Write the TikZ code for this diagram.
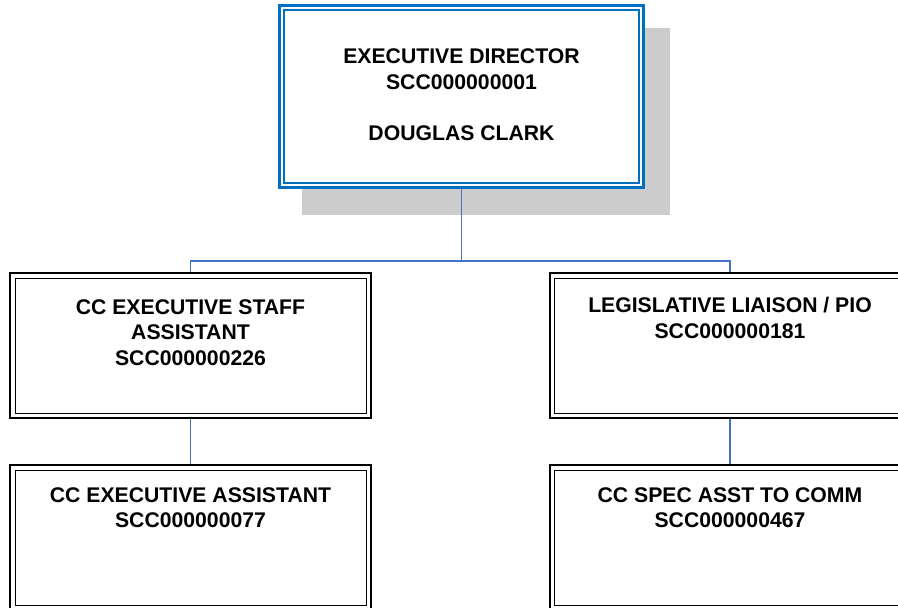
\documentclass[tikz,border=0pt]{standalone}
\usepackage{fontspec}
\setmainfont{Liberation Sans}
\definecolor{topblue}{RGB}{0,112,192}
\definecolor{linkblue}{RGB}{68,114,196}
\definecolor{shadowgray}{RGB}{204,204,204}
\begin{document}
\begin{tikzpicture}[x=1pt,y=-1pt,
  blackbox/.style={draw=black, line width=2pt, fill=white, minimum width=361pt, minimum height=145pt, inner sep=0pt,
    path picture={\draw[black,line width=1pt] ([shift={(5pt,-5pt)}]path picture bounding box.north west) rectangle ([shift={(-5pt,5pt)}]path picture bounding box.south east);}},
  topbox/.style={draw=topblue, line width=3pt, fill=white, minimum width=364pt, minimum height=182pt, inner sep=0pt,
    path picture={\draw[topblue,line width=1.6pt] ([shift={(4.3pt,-4.3pt)}]path picture bounding box.north west) rectangle ([shift={(-4.3pt,4.3pt)}]path picture bounding box.south east);}},
  shadowbox/.style={fill=shadowgray, draw=none, minimum width=368pt, minimum height=187pt, inner sep=0pt},
  txt/.style={font=\bfseries\fontsize{21.2}{25.5}\selectfont, align=center, inner sep=0pt, anchor=north},
  conn/.style={draw=linkblue, line width=1.3pt}
]
\useasboundingbox (0,0) rectangle (898,608);
\clip (0,0) rectangle (898,608);
\fill[white] (0,0) rectangle (898,608);
\node[shadowbox] (shadow) at (486,121.5) {};
\coordinate (bus) at (462,261);
% connectors first (behind boxes)
\node[blackbox] (L1) at (190.5,345.5) {};
\node[blackbox] (R1) at (730,345.5) {};
\node[blackbox] (L2) at (190.5,537.5) {};
\node[blackbox] (R2) at (730,537.5) {};
\node[topbox] (top) at (461.5,96.5) {};
\draw[conn] (top.south) -- (top.south |- bus) -| (L1.north);
\draw[conn] (top.south |- bus) -| (R1.north);
\draw[conn] (L1.south) -- (L2.north);
\draw[conn] (R1.south) -- (R2.north);
\node[txt] (topt) at ([yshift=-44.5pt]top.north) {EXECUTIVE DIRECTOR\\SCC000000001\\[25.5pt]DOUGLAS CLARK};
\node[txt] (L1t) at ([yshift=-27pt]L1.north) {CC EXECUTIVE STAFF\\ASSISTANT\\SCC000000226};
\node[txt] (R1t) at ([yshift=-25pt]R1.north) {LEGISLATIVE LIAISON / PIO\\SCC000000181};
\node[txt] (L2t) at ([yshift=-23pt]L2.north) {CC EXECUTIVE ASSISTANT\\SCC000000077};
\node[txt] (R2t) at ([yshift=-23pt]R2.north) {CC SPEC ASST TO COMM\\SCC000000467};
\end{tikzpicture}
\end{document}
